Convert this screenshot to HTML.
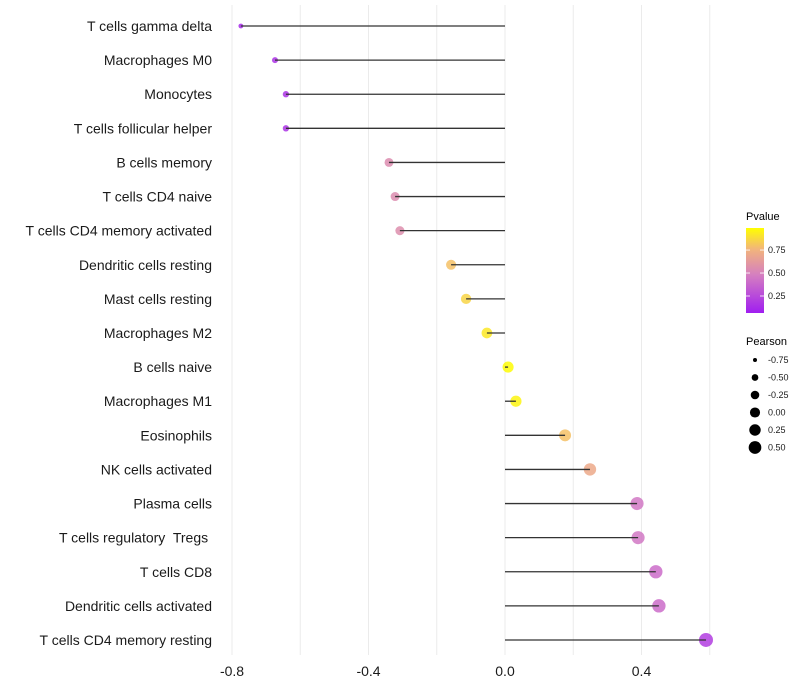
<!DOCTYPE html>
<html><head><meta charset="utf-8"><style>body{margin:0;background:#fff}svg{display:block;font-family:"Liberation Sans",sans-serif}text{white-space:pre}</style></head>
<body>
<svg id="chart" width="800" height="700" viewBox="0 0 800 700">
<defs><linearGradient id="pg" x1="0" y1="1" x2="0" y2="0">
<stop offset="0" stop-color="#a01ef0"/><stop offset="0.45" stop-color="#d57fc0"/><stop offset="0.75" stop-color="#f2b47c"/><stop offset="1" stop-color="#ffff00"/></linearGradient></defs>
<g id="grid"></g>
<g id="marks"></g>
<g id="ylabels"></g>
<g id="xlabels"></g>
<g>
<text x="746" y="220" font-size="11">Pvalue</text>
<rect x="746" y="228" width="18" height="85" fill="url(#pg)"/>
<g id="cbticks"></g>
</g>
<g id="sizeLegend">
<text x="746" y="345" font-size="11">Pearson</text>
</g>
</svg>
<script>
const categories=["T cells gamma delta","Macrophages M0","Monocytes","T cells follicular helper","B cells memory","T cells CD4 naive","T cells CD4 memory activated","Dendritic cells resting","Mast cells resting","Macrophages M2","B cells naive","Macrophages M1","Eosinophils","NK cells activated","Plasma cells","T cells regulatory  Tregs ","T cells CD8","Dendritic cells activated","T cells CD4 memory resting"];
const pearson=[-0.774,-0.674,-0.642,-0.642,-0.340,-0.322,-0.308,-0.158,-0.114,-0.053,0.009,0.032,0.176,0.249,0.387,0.390,0.442,0.451,0.589];
const pvalue=[0.12,0.15,0.16,0.16,0.55,0.55,0.56,0.80,0.86,0.92,0.98,0.96,0.80,0.70,0.45,0.45,0.40,0.40,0.20];
const xTicks=[-0.8,-0.4,0.0,0.4];
const xTickLabels=["-0.8","-0.4","0.0","0.4"];
const gridVals=[-0.8,-0.6,-0.4,-0.2,0,0.2,0.4,0.6];
const pTicks=[0.25,0.5,0.75];
const sizeVals=[-0.75,-0.5,-0.25,0,0.25,0.5];
const NS="http://www.w3.org/2000/svg";
const x=v=>505+v*341.25;
const y=i=>26+i*34.11;
const r=v=>Math.sqrt(Math.max(2.5,30.4+31.7*v));
const rl=v=>Math.sqrt(Math.max(2.5,25.6+28.8*v));
const pY=p=>313-(p-0.065)/(0.99-0.065)*85;
const stops=[[0,[160,30,240]],[0.45,[213,127,192]],[0.75,[242,180,124]],[1,[255,255,0]]];
function col(p){const t=Math.max(0,Math.min(1,(p-0.065)/(0.925)));for(let k=1;k<stops.length;k++){if(t<=stops[k][0]){const a=stops[k-1],b=stops[k],f=(t-a[0])/(b[0]-a[0]);return "rgb("+a[1].map((c,j)=>Math.round(c+(b[1][j]-c)*f)).join(",")+")";}}return "rgb(255,255,0)";}
function mk(tag,at,parent){const e=document.createElementNS(NS,tag);for(const k in at)e.setAttribute(k,at[k]);parent.appendChild(e);return e;}
const grid=document.getElementById("grid");
gridVals.forEach(v=>{const l=mk("line",{x1:x(v),x2:x(v),y1:5,y2:655,stroke:"#ebebeb","stroke-width":1},grid);

});
const marks=document.getElementById("marks"),yl=document.getElementById("ylabels"),xl=document.getElementById("xlabels");
categories.forEach((c,i)=>{
const pt=mk("circle",{cx:x(pearson[i]),cy:y(i),r:r(pearson[i]),fill:col(pvalue[i]),"fill-opacity":0.85},marks);


const sg=mk("line",{x1:x(0),x2:x(pearson[i]),y1:y(i),y2:y(i),stroke:"#333","stroke-width":1.3},marks);


const t=mk("text",{x:212,y:y(i)+5,"text-anchor":"end","font-size":14,fill:"#1a1a1a"},yl);t.textContent=c;


});
xTicks.forEach((v,i)=>{const t=mk("text",{x:x(v),y:676,"text-anchor":"middle","font-size":14,fill:"#1a1a1a"},xl);t.textContent=xTickLabels[i];

});
const cb=document.getElementById("cbticks");
pTicks.forEach(p=>{mk("line",{x1:746,x2:750,y1:pY(p),y2:pY(p),stroke:"#fff","stroke-width":0.8},cb);mk("line",{x1:760,x2:764,y1:pY(p),y2:pY(p),stroke:"#fff","stroke-width":0.8},cb);
const t=mk("text",{x:768,y:pY(p)+3,"font-size":9,fill:"#1a1a1a"},cb);t.textContent=p.toFixed(2);

});
const sl=document.getElementById("sizeLegend");
sizeVals.forEach((v,i)=>{const cy=360+i*17.5;const c=mk("circle",{cx:755,cy:cy,r:rl(v),fill:"#000"},sl);


const t=mk("text",{x:768,y:cy+3,"font-size":9,fill:"#1a1a1a"},sl);t.textContent=v.toFixed(2);

});
</script>
</body></html>
